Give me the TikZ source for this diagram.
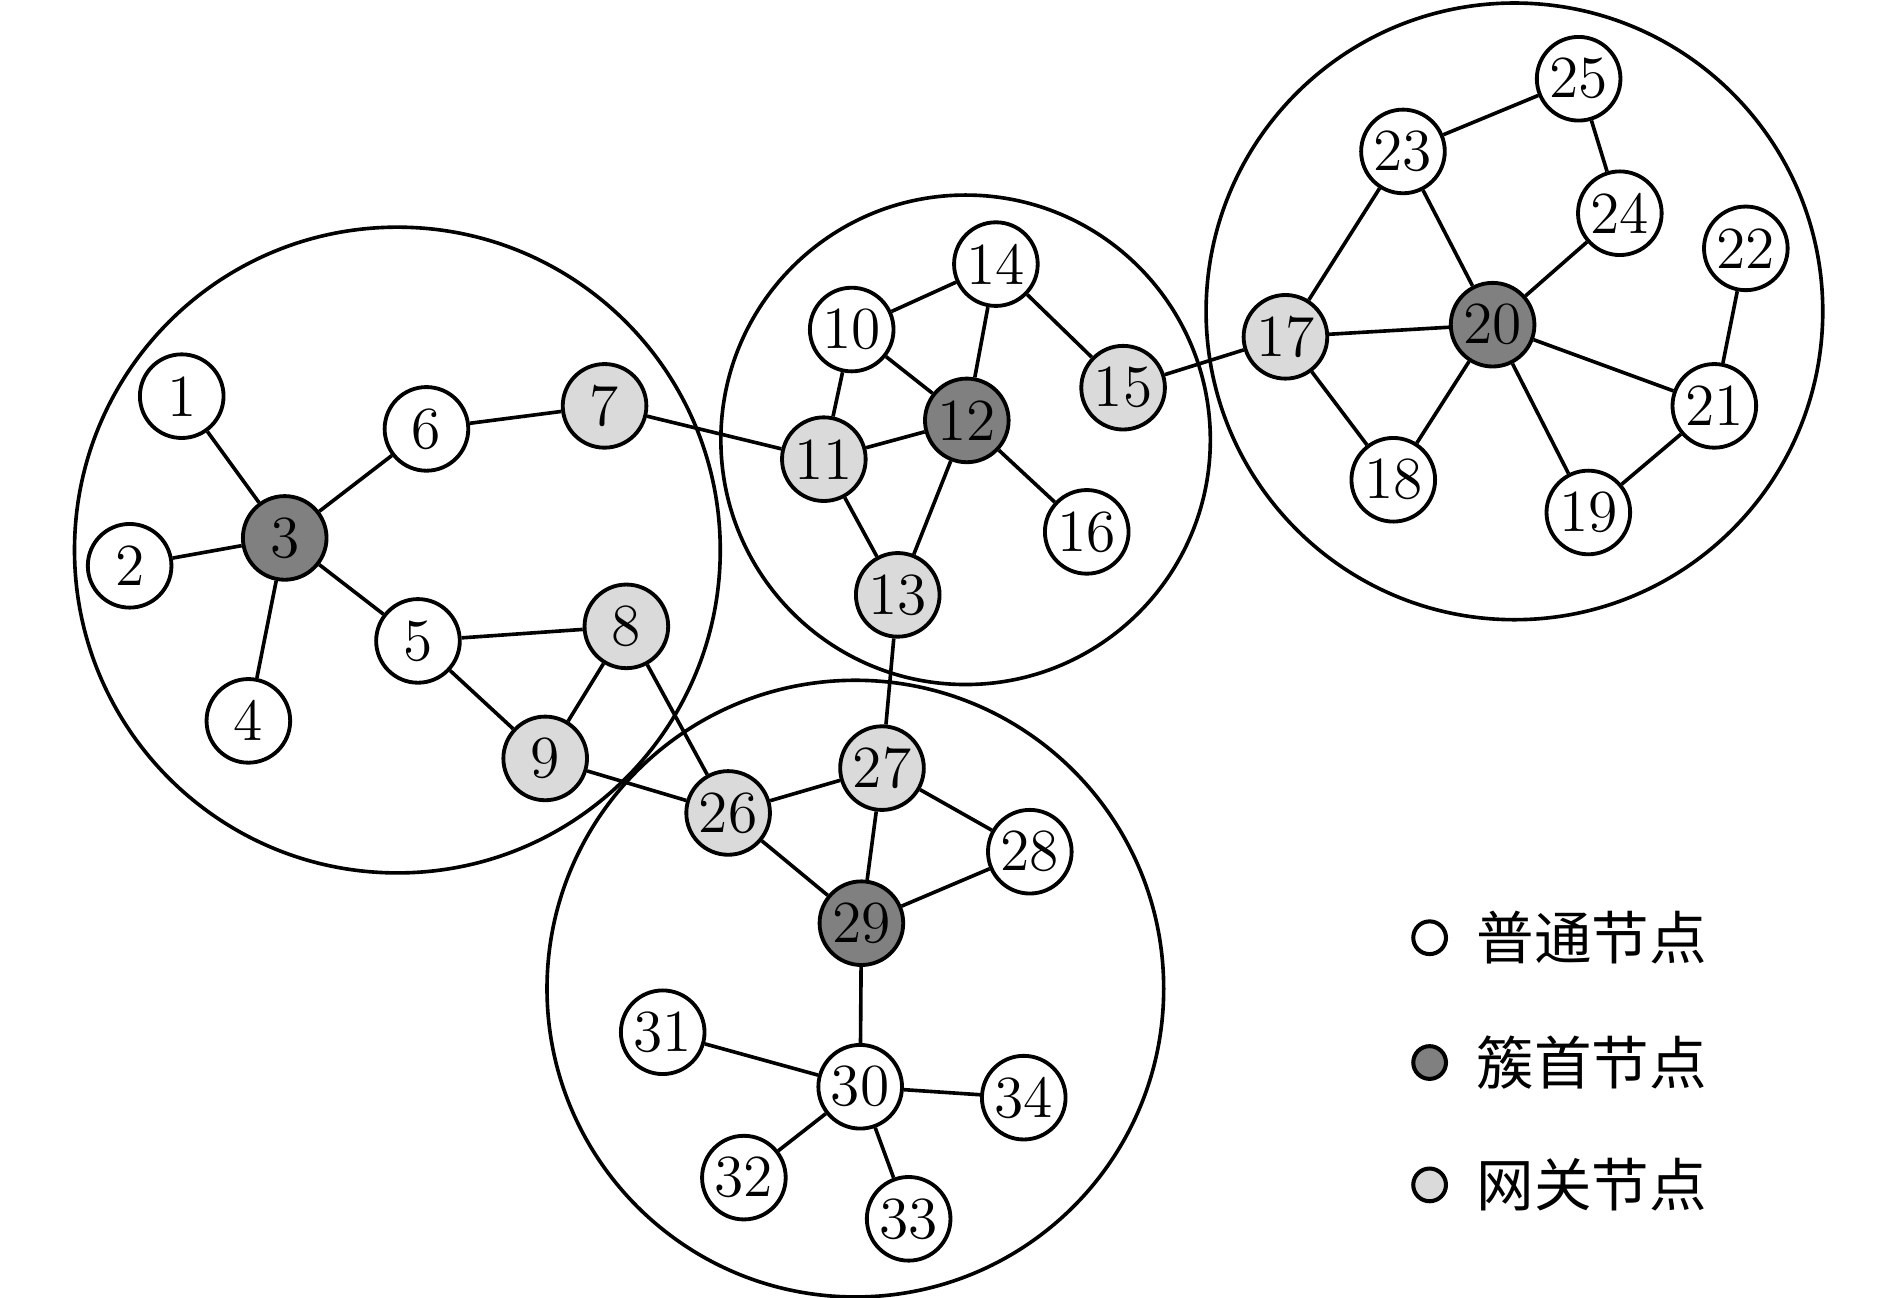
\documentclass[tikz,border=0pt]{standalone}
\usepackage{fontspec}
\newfontfamily\cjk{Noto Sans CJK SC}
\definecolor{headgray}{RGB}{128,128,128}
\definecolor{gategray}{RGB}{218,218,218}
\begin{document}
\begin{tikzpicture}[x=0.01cm,y=-0.01cm,
  nd/.style={circle,draw,line width=0.9pt,minimum size=0.69cm,inner sep=0pt,font=\fontsize{14}{16}\selectfont},
  plain/.style={nd,fill=white},
  head/.style={nd,fill=headgray},
  gate/.style={nd,fill=gategray},
  edge/.style={line width=0.85pt},
  cluster/.style={line width=0.85pt},
  legdot/.style={circle,draw,line width=0.95pt,minimum size=0.27cm,inner sep=0pt},
  legtext/.style={anchor=west,inner sep=0pt,font=\cjk\fontsize{13.5}{16}\selectfont}]
\useasboundingbox (0,0) rectangle (1560,1070.6);
% clusters
\draw[cluster] (328,454) circle[radius=266.5];
\draw[cluster] (797,363) circle[radius=202];
\draw[cluster] (1250,257) circle[radius=254.5];
\draw[cluster] (706,816) circle[radius=254.5];
% nodes
\node[plain] (n1) at (150,327) {1};
\node[plain] (n2) at (107,467) {2};
\node[head]  (n3) at (235,444) {3};
\node[plain] (n4) at (205,595) {4};
\node[plain] (n5) at (345,529) {5};
\node[plain] (n6) at (352,354) {6};
\node[gate]  (n7) at (499,335) {7};
\node[gate]  (n8) at (517,517) {8};
\node[gate]  (n9) at (450,626) {9};
\node[plain] (n10) at (703,272) {10};
\node[gate]  (n11) at (680,379) {11};
\node[head]  (n12) at (798,347) {12};
\node[gate]  (n13) at (741,491) {13};
\node[plain] (n14) at (822,218) {14};
\node[gate]  (n15) at (927,320) {15};
\node[plain] (n16) at (897,439) {16};
\node[gate]  (n17) at (1061,278) {17};
\node[plain] (n18) at (1150,396) {18};
\node[plain] (n19) at (1311,423) {19};
\node[head]  (n20) at (1232,268) {20};
\node[plain] (n21) at (1415,335) {21};
\node[plain] (n22) at (1441,205) {22};
\node[plain] (n23) at (1158,125) {23};
\node[plain] (n24) at (1337,176) {24};
\node[plain] (n25) at (1303,65) {25};
\node[gate]  (n26) at (601,671) {26};
\node[gate]  (n27) at (728,634) {27};
\node[plain] (n28) at (850,703) {28};
\node[head]  (n29) at (711,762) {29};
\node[plain] (n30) at (710,897) {30};
\node[plain] (n31) at (547,852) {31};
\node[plain] (n32) at (614,972) {32};
\node[plain] (n33) at (750,1006) {33};
\node[plain] (n34) at (845,906) {34};
% edges
\foreach \a/\b in {1/3,2/3,4/3,3/6,3/5,6/7,7/11,5/8,5/9,8/9,8/26,9/26,
  10/14,10/11,10/12,11/12,11/13,12/13,12/14,12/16,14/15,15/17,13/27,
  17/20,17/23,17/18,18/20,20/23,20/24,24/25,23/25,20/21,20/19,19/21,21/22,
  26/27,26/29,27/29,27/28,28/29,29/30,30/31,30/32,30/33,30/34}
  \draw[edge] (n\a) -- (n\b);
% legend
\node[legdot,fill=white]    (l1) at (1180,774) {};
\node[legdot,fill=headgray] (l2) at (1180,877) {};
\node[legdot,fill=gategray] (l3) at (1180,978) {};
\node[legtext] (t1) at (1218,774) {普通节点};
\node[legtext] (t2) at (1218,877) {簇首节点};
\node[legtext] (t3) at (1218,978) {网关节点};
\end{tikzpicture}
\end{document}
